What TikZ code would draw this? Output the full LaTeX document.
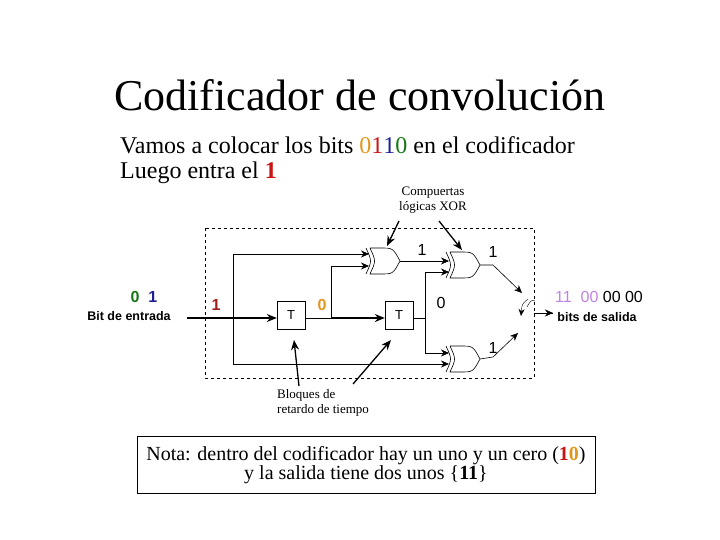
\documentclass[tikz,border=0pt]{standalone}
\usepackage{fontspec}
\setmainfont{Liberation Serif}
\newfontfamily\arial{Liberation Sans}
\usetikzlibrary{arrows.meta}
\definecolor{cor}{RGB}{225,150,30}
\definecolor{cred}{RGB}{200,20,20}
\definecolor{cblue}{RGB}{30,30,150}
\definecolor{cgreen}{RGB}{20,120,20}
\definecolor{cpur}{RGB}{190,130,230}
\definecolor{cbrown}{RGB}{160,30,30}
\tikzset{
 wire/.style={line width=0.6pt},
 inarr/.style={wire,-{Stealth[length=8pt,width=7pt]}},
 bigarr/.style={line width=1.3pt,-{Stealth[length=10pt,width=8pt]}},
 tbox/.style={draw,minimum width=28pt,minimum height=28pt,inner sep=0,font=\arial\fontsize{13}{15}\selectfont},
 lab/.style={font=\arial\fontsize{16}{18}\selectfont,inner sep=0},
 smalltxt/.style={font=\fontsize{13}{15}\selectfont,inner sep=0},
 introtxt/.style={font=\fontsize{24}{28}\selectfont,anchor=west,inner sep=0},
 xorg/.pic={\draw[wire] (0,0) .. controls (6,13) .. (0,26);
  \draw[wire] (4,0) -- (14,0) .. controls (27,0) .. (34,13) .. controls (27,26) .. (14,26) -- (4,26) .. controls (10,13) .. (4,0);
  \coordinate (-out) at (34,13);}
}
\begin{document}
\begin{tikzpicture}[x=1pt,y=-1pt]
\useasboundingbox (0,0) rectangle (720,540);
\node (title) at (360,95) {\fontsize{44}{48}\selectfont Codificador de convolución};
\node[introtxt] (intro1) at (120,145) {Vamos a colocar los bits \textcolor{cor}{0}\textcolor{cred}{1}\textcolor{cblue}{1}\textcolor{cgreen}{0} en el codificador};
\node[introtxt] (intro2) at (120,173) {Luego entra el \textcolor{cred}{\textbf{1}}};
\node[align=center,smalltxt] (comp) at (433,200) {Compuertas\\lógicas XOR};
\draw[dashed,wire] (205,228) rectangle (534,378);
\pic (g1) at (366,248) {xorg};
\pic (g2) at (446,252) {xorg};
\pic (g3) at (446,346) {xorg};
\node[tbox] (t1) at (291,315) {T};
\node[tbox] (t2) at (399,315) {T};
\coordinate (in) at (187,318);
\draw[bigarr] (in) -- (t1.west|-in);
\coordinate (a1) at (233,254); \coordinate (a2) at (233,364);
\draw[wire] (a1) -- (a2);
\draw[inarr] (a1) -- (369,254);
\draw[inarr] (a2) -- (449,364);
\draw[wire] (t1.east|-in) -- (331,318);
\draw[bigarr] (331,318) -- (t2.west|-in);
\draw[inarr] (331,318) -- (331,266) -- (369,266);
\draw[inarr] (g1-out) -- (449,261);
\draw[wire] (t2.east|-in) -- (425,318);
\draw[inarr] (425,318) -- (425,272) -- (449,272);
\draw[inarr] (425,318) -- (425,353) -- (449,353);
\coordinate (sw1) at (522,293); \coordinate (sw2) at (518,333);
\coordinate (sw) at (534,313); \coordinate (outp) at (553,313);
\draw[wire,-{Stealth[length=8pt,width=7pt]}] (g2-out) -- (493,265) -- (sw1);
\draw[wire,-{Stealth[length=8pt,width=7pt]}] (g3-out) -- (493,357) -- (sw2);
\draw[line width=0.4pt,-{Stealth[length=7pt,width=6pt]}] (528,299) .. controls (522,304) .. (521,316);
\draw[line width=0.4pt] (527,307) .. controls (531,300) .. (535,301);
\draw[line width=0.4pt] (sw) -- (outp);
\draw[line width=0.4pt,-{Stealth[length=8pt,width=7pt]}] (sw) -- (outp);
\draw[bigarr] (399,221) -- (387,246);
\draw[bigarr] (439,221) -- (462,250);
\draw[bigarr] (299,386) -- (294,340);
\draw[bigarr] (353,384) -- (391,340);
\node[align=left,anchor=north west,smalltxt] (bloq) at (277,389) {Bloques de\\retardo de tiempo};
\node[lab] (l1) at (422,250) {1};
\node[lab] (l2) at (493,252) {1};
\node[lab] (l3) at (441,303) {0};
\node[lab] (l4) at (493,348) {1};
\node[lab,text=cbrown] (l5) at (216,305) {\textbf{1}};
\node[lab,text=cor] (l6) at (322,305) {\textbf{0}};
\node[lab] (bits) at (144,297) {\textbf{\textcolor{cgreen}{0}\ \ \textcolor{cblue}{1}}};
\node[font=\arial\fontsize{12.5}{14}\selectfont\bfseries,inner sep=0] (bde) at (129,316) {Bit de entrada};
\node[lab] (outb) at (599,297) {\textcolor{cpur}{11\ \ 00} 00 00};
\node[font=\arial\fontsize{12.5}{14}\selectfont\bfseries,inner sep=0] (bds) at (597,317) {bits de salida};
\node[draw,wire,minimum width=458pt,minimum height=57pt,align=center,inner sep=0] (nota) at (366,465) {\fontsize{20}{26}\selectfont Nota: dentro del codificador hay un uno y un cero (\textcolor{cred}{\textbf{1}}\textcolor{cor}{\textbf{0}})\\\fontsize{20}{26}\selectfont y la salida tiene dos unos \{\textbf{11}\}};
\end{tikzpicture}
\end{document}
